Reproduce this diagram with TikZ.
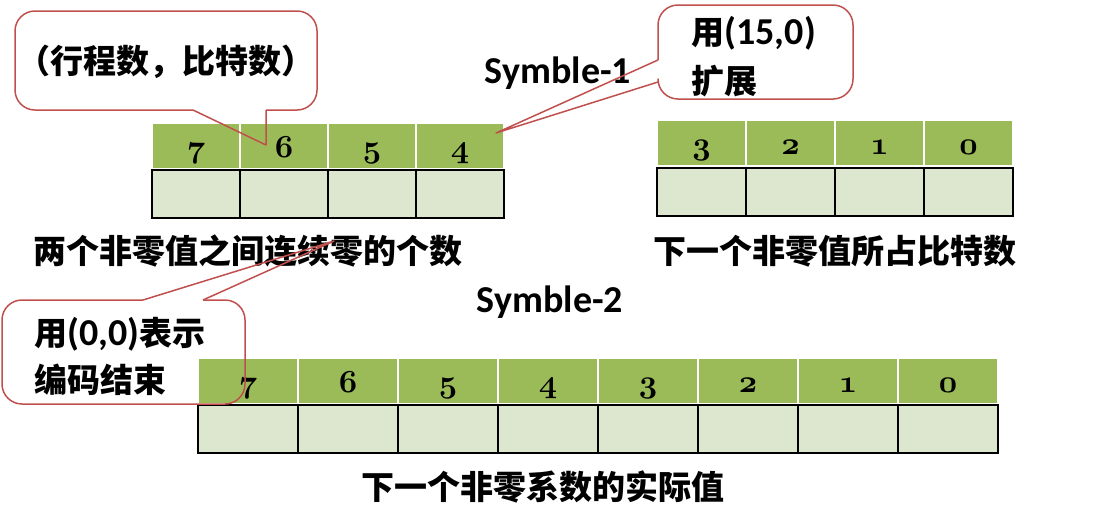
\documentclass[tikz,border=0pt]{standalone}
\usepackage{fontspec}
\setmainfont{Carlito}
\newfontfamily\cjk{Noto Sans CJK SC}
\DeclareFontFamily{OML}{osd}{}
\DeclareFontShape{OML}{osd}{b}{it}{<-> cmmib10}{}
\definecolor{cellgreen}{RGB}{155,187,89}
\definecolor{celllight}{RGB}{221,231,208}
\definecolor{noteline}{RGB}{192,80,77}
\newcommand\zh[1]{{\fontsize{33}{40}\cjk\bfseries #1}}
\newcommand\osnumfont{\fontsize{32}{32}\usefont{OML}{osd}{b}{it}}

\begin{document}
\begin{tikzpicture}[x=1pt, y=-1pt]
\tikzset{gcell/.style={fill=cellgreen, draw=white, line width=2pt, inner sep=0pt, minimum height=46pt, text height=25pt, text depth=2pt, font=\osnumfont},
  lcell/.style={fill=celllight, draw=black, line width=2pt, inner sep=0pt, minimum height=48pt},
  note/.style={draw=noteline, line width=1.5pt, line join=round},
  bigtext/.style={font=\bfseries\fontsize{38}{46}\selectfont}}
\useasboundingbox (0,0) rectangle (1108,512);
\foreach \d [count=\i from 0] in {7,6,5,4} {
  \node[gcell, minimum width=88pt] (ga\d) at ({196+88*\i}, 146) {\d};
  \node[lcell, minimum width=88pt] (la\d) at ({196+88*\i}, 193.5) {};
}
\foreach \d [count=\i from 0] in {3,2,1,0} {
  \node[gcell, minimum width=89pt] (gb\d) at ({701.5+89*\i}, 143) {\d};
  \node[lcell, minimum width=89pt] (lb\d) at ({701.5+89*\i}, 191.5) {};
}
\foreach \d [count=\i from 0] in {7,6,5,4,3,2,1,0} {
  \node[gcell, minimum width=100pt] (gc\d) at ({248+100*\i}, 381) {\d};
  \node[lcell, minimum width=100pt] (lc\d) at ({248+100*\i}, 428.5) {};
}
\node[bigtext] (sym1) at (558,73) {Symble-1};
\node[bigtext] (sym2) at (550,302) {Symble-2};
\node (lab1) at (248,251) {\zh{两个非零值之间连续零的个数}};
\node (lab2) at (835,251) {\zh{下一个非零值所占比特数}};
\node (lab3) at (543,487) {\zh{下一个非零系数的实际值}};
\coordinate (t1) at (266,145);
\draw[note, rounded corners=20pt] (193,110) -- (15,110) -- (15,11) -- (317,11) -- (317,110) -- (266,110);
\draw[note] (193,110) -- (t1) -- (266,110);
\node (note1) at (166,62) {\zh{（行程数，比特数）}};
\coordinate (t2) at (496,133);
\draw[note, rounded corners=20pt] (658,60) -- (658,5) -- (853,5) -- (853,99) -- (658,99) -- (658,82);
\draw[note] (658,60) -- (t2) -- (658,82);
\node[font=\bfseries\fontsize{38}{49}\selectfont, align=left, anchor=west] (note2) at (688,57) {\zh{用}(15,0)\\\zh{扩展}};
\coordinate (t3) at (334,241);
\draw[note, rounded corners=20pt] (143,300) -- (2,300) -- (2,404) -- (245,404) -- (245,300) -- (203,300);
\draw[note] (143,300) -- (t3) -- (203,300);
\node[font=\bfseries\fontsize{38}{47}\selectfont, align=left, anchor=west] (note3) at (31,356) {\zh{用}(0,0)\zh{表示}\\\zh{编码结束}};
\end{tikzpicture}
\end{document}
